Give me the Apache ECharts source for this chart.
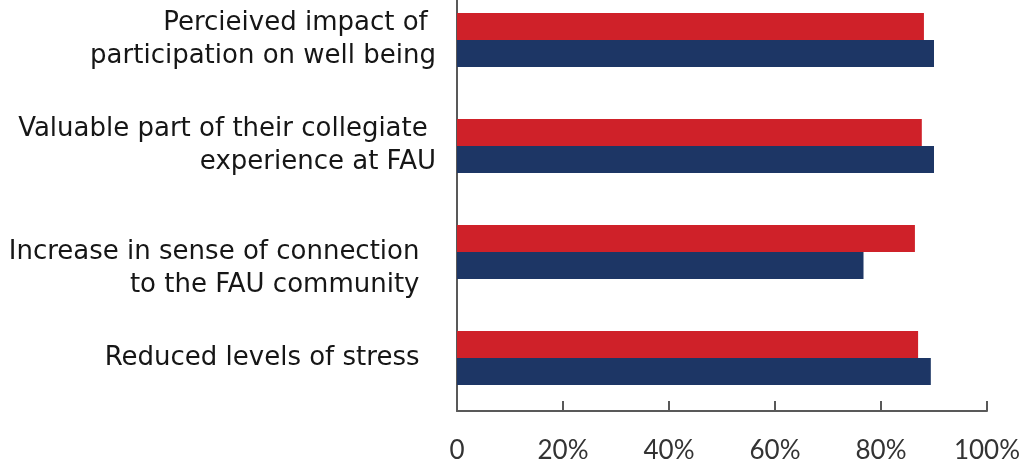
<!DOCTYPE html>
<html>
<head>
<meta charset="utf-8">
<script src="https://cdn.jsdelivr.net/npm/echarts@6/dist/echarts.min.js"></script>
<style>
  html, body { margin: 0; padding: 0; background: #ffffff; }
  #chart { width: 1031px; height: 463px; }
</style>
</head>
<body>
<div id="chart"></div>
<script>
// Categories, top to bottom
const categories = [
  "Percieived impact of \nparticipation on well being",
  "Valuable part of their collegiate \nexperience at FAU",
  "Increase in sense of connection  \nto the FAU community  ",
  "Reduced levels of stress  "
];
// Series values (percent)
const redValues  = [88.1, 87.7, 86.4, 87.0];
const navyValues = [90.0, 90.0, 76.7, 89.4];
// X-axis tick labels
const tickValues = [0, 20, 40, 60, 80, 100];
const tickLabels = ["0", "20%", "40%", "60%", "80%", "100%"];

const axisColor = '#595959';
const chart = echarts.init(document.getElementById('chart'), null, { renderer: 'canvas' });

chart.setOption({
  animation: false,
  backgroundColor: '#ffffff',
  grid: { left: 457, right: 44, top: -13, bottom: 52, containLabel: false, outerBoundsMode: 'none' },
  xAxis: {
    type: 'value',
    min: 0,
    max: 100,
    interval: 20,
    axisLine: { show: true, lineStyle: { color: axisColor, width: 2 } },
    axisTick: { show: true, inside: true, length: 10, lineStyle: { color: axisColor, width: 2 } },
    splitLine: { show: false },
    axisLabel: {
      margin: 27,
      fontFamily: 'Lato',
      fontSize: 26,
      color: '#333333',
      formatter: function (v) {
        const i = tickValues.indexOf(v);
        return i >= 0 ? tickLabels[i] : '';
      }
    }
  },
  yAxis: {
    type: 'category',
    inverse: true,
    data: categories,
    axisLine: { show: true, lineStyle: { color: axisColor, width: 2 } },
    axisTick: { show: false },
    axisLabel: {
      margin: 21,
      fontFamily: 'DejaVu Sans',
      fontSize: 26,
      lineHeight: 33,
      color: '#161616',
      align: 'right',
      formatter: function (v, idx) {
        // third category's first line sits at the band centre in the original
        return idx === 2 ? '\n' + v : v;
      }
    }
  },
  series: [
    {
      name: 'Series A',
      type: 'bar',
      data: redValues,
      barWidth: 27,
      barGap: '0%',
      itemStyle: { color: '#cf2129' }
    },
    {
      name: 'Series B',
      type: 'bar',
      data: navyValues,
      barWidth: 27,
      barGap: '0%',
      itemStyle: { color: '#1d3665' }
    }
  ]
});
</script>
</body>
</html>
